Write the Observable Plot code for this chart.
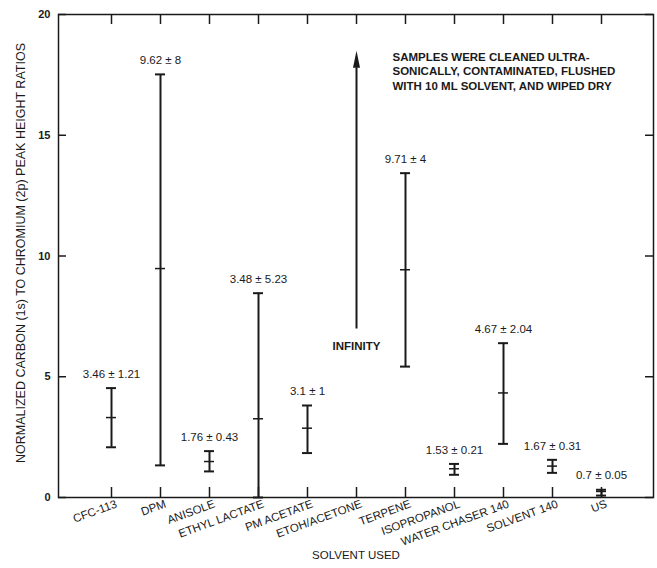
<!DOCTYPE html>
<html>
<head>
<meta charset="utf-8">
<script src="https://cdn.jsdelivr.net/npm/d3@7"></script>
<script src="https://cdn.jsdelivr.net/npm/@observablehq/plot@0.6"></script>
<style>
  html, body { margin: 0; padding: 0; background: #fff; }
  #chart svg { display: block; }
</style>
</head>
<body>
<div id="chart"></div>
<script>
// ---- data ----
const names = ["CFC-113", "DPM", "ANISOLE", "ETHYL LACTATE", "PM ACETATE", "ETOH/ACETONE",
               "TERPENE", "ISOPROPANOL", "WATER CHASER 140", "SOLVENT 140", "US"];
const lows  = [2.08, 1.33, 1.08, 0.00, 1.84, null, 5.42, 0.94, 2.22, 1.02, 0.08];
const mids  = [3.31, 9.48, 1.49, 3.26, 2.87, null, 9.43, 1.19, 4.33, 1.30, 0.25];
const highs = [4.53, 17.52, 1.92, 8.46, 3.81, null, 13.43, 1.39, 6.39, 1.56, 0.32];
const labels = ["3.46 ± 1.21", "9.62 ± 8", "1.76 ± 0.43", "3.48 ± 5.23", "3.1 ± 1", null,
                "9.71 ± 4", "1.53 ± 0.21", "4.67 ± 2.04", "1.67 ± 0.31", "0.7 ± 0.05"];
const arrowCategory = "ETOH/ACETONE";
const arrowFrom = 6.98;
const arrowHeadBase = 17.8;
const arrowTo = 18.5;
const arrowLabel = "INFINITY";
const yTicks = [0, 5, 10, 15, 20];
const noteLines = ["SAMPLES WERE CLEANED ULTRA-", "SONICALLY, CONTAMINATED, FLUSHED", "WITH 10 ML SOLVENT, AND WIPED DRY"];
const yLabel = "NORMALIZED CARBON (1s) TO CHROMIUM (2p) PEAK HEIGHT RATIOS";
const xLabel = "SOLVENT USED";

const rows = names.map((name, i) => ({name, low: lows[i], mid: mids[i], high: highs[i], label: labels[i]}))
                  .filter(d => d.high != null);

const ink = "#1a1a1a";
const narrowTriangle = {
  draw(ctx) { ctx.moveTo(0, 0); ctx.lineTo(3.5, 17); ctx.lineTo(-3.5, 17); ctx.closePath(); }
};

const chart = Plot.plot({
  width: 657,
  height: 568,
  marginLeft: 58,
  marginRight: 4,
  marginTop: 14,
  marginBottom: 71,
  style: {fontFamily: "'Liberation Sans', Arial, sans-serif", background: "#fff", color: ink},
  x: {type: "band", domain: names, paddingInner: 0.8, paddingOuter: 0.9},
  y: {domain: [0, 20]},
  marks: [
    Plot.axisY({ticks: yTicks, tickSize: 0, tickPadding: 8, label: null, fontSize: 11, fontWeight: "bold"}),
    Plot.axisX({tickSize: 0, tickRotate: -20, tickPadding: 6, dx: 5, label: null, fontSize: 11.5}),
    // inward tick marks
    Plot.tickX(names, {x: d => d, insetTop: 473, stroke: ink, strokeWidth: 1.5}),
    Plot.tickX(names, {x: d => d, insetBottom: 473, stroke: ink, strokeWidth: 1.5}),
    Plot.tickY(yTicks, {y: d => d, insetRight: 587, stroke: ink, strokeWidth: 1.5}),
    Plot.tickY(yTicks, {y: d => d, insetLeft: 587, stroke: ink, strokeWidth: 1.5}),
    Plot.frame({stroke: ink, strokeWidth: 1.5}),
    // error bars
    Plot.ruleX(rows, {x: "name", y1: "low", y2: "high", stroke: ink, strokeWidth: 2}),
    Plot.tickY(rows, {x: "name", y: "high", stroke: ink, strokeWidth: 2}),
    Plot.tickY(rows, {x: "name", y: "low", stroke: ink, strokeWidth: 2}),
    Plot.tickY(rows, {x: "name", y: "mid", stroke: ink, strokeWidth: 1.5}),
    Plot.text(rows, {x: "name", y: "high", text: "label", dy: -14, fontSize: 11.5, fill: ink}),
    // infinity arrow
    Plot.ruleX([arrowCategory], {x: d => d, y1: arrowFrom, y2: arrowHeadBase, stroke: ink, strokeWidth: 2}),
    Plot.dot([arrowCategory], {x: d => d, y: arrowTo, symbol: narrowTriangle, fill: ink, stroke: "none"}),
    Plot.text([arrowCategory], {x: d => d, y: arrowFrom, text: () => arrowLabel, dy: 17, fontSize: 11.5, fontWeight: "bold", fill: ink}),
    // note
    Plot.text([noteLines.join("\n")], {frameAnchor: "top-left", dx: 334, dy: 37, lineAnchor: "top", textAnchor: "start",
      lineHeight: 1.22, fontSize: 11.5, fontWeight: "bold", fill: ink}),
    // axis titles
    Plot.text([yLabel], {frameAnchor: "left", rotate: -90, dx: -38, dy: -3, textAnchor: "middle", fontSize: 12.5, fill: ink}),
    Plot.text([xLabel], {frameAnchor: "bottom", dy: 61, fontSize: 11.5, fill: ink})
  ]
});
document.getElementById("chart").append(chart);
</script>
</body>
</html>
